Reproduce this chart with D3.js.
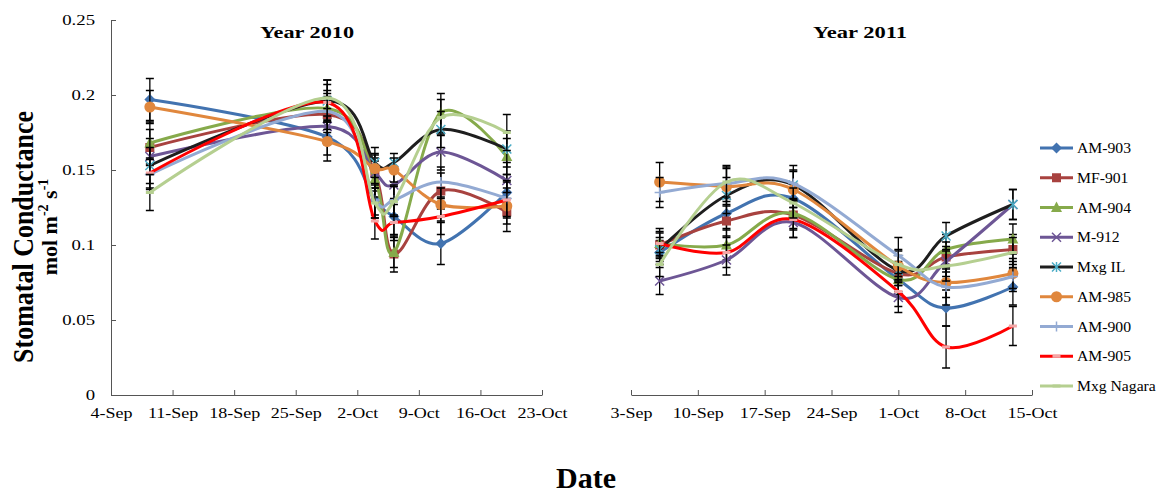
<!DOCTYPE html>
<html>
<head>
<meta charset="utf-8">
<script src="https://cdn.jsdelivr.net/npm/d3@7"></script>
<style>
  body { margin: 0; background: #fff; }
  svg { display: block; }
  text { font-family: 'Liberation Serif', 'Times New Roman', serif; fill: #000; }
</style>
</head>
<body>
<div id="chart"></div>
<script>
/* global d3 */

// series, in legend order
const seriesNames = ['AM-903', 'MF-901', 'AM-904', 'M-912', 'Mxg IL', 'AM-985', 'AM-900', 'AM-905', 'Mxg Nagara'];
const lineColors = ['#4273B0', '#A8423F', '#86AA4B', '#6D5695', '#1E1E1E', '#E0873D', '#93AAD3', '#FF0000', '#B5CF90'];
const markerColors = ['#4273B0', '#A8423F', '#86AA4B', '#6D5695', '#4BACC6', '#E0873D', '#93AAD3', '#F3A6A6', '#B5CF90'];
const markerTypes = ['diamond', 'square', 'triangle', 'x', 'star', 'circle', 'plus', 'dash', 'dash'];

// sampling dates
const dates2010 = ['2010-09-08 10:00', '2010-09-28 14:00', '2010-10-04 00:00', '2010-10-06 04:00', '2010-10-11 12:00', '2010-10-19 00:00'];
const dates2011 = ['2011-09-06 00:00', '2011-09-13 00:00', '2011-09-20 00:00', '2011-10-01 00:00', '2011-10-06 00:00', '2011-10-13 00:00'];

// stomatal conductance, one row per series (same order as seriesNames)
const values2010 = [
  [0.197, 0.172, 0.130, 0.119, 0.101, 0.135], // AM-903
  [0.165, 0.187, 0.148, 0.094, 0.136, 0.122], // MF-901
  [0.168, 0.191, 0.144, 0.095, 0.188, 0.159], // AM-904
  [0.159, 0.179, 0.148, 0.140, 0.162, 0.143], // M-912
  [0.153, 0.196, 0.155, 0.155, 0.177, 0.164], // Mxg IL
  [0.192, 0.169, 0.151, 0.150, 0.127, 0.126], // AM-985
  [0.147, 0.189, 0.130, 0.130, 0.142, 0.131], // AM-900
  [0.148, 0.195, 0.116, 0.115, 0.119, 0.130], // AM-905
  [0.135, 0.198, 0.128, 0.129, 0.185, 0.175]  // Mxg Nagara
];
const values2011 = [
  [0.095, 0.121, 0.131, 0.077, 0.058, 0.072],
  [0.100, 0.116, 0.120, 0.081, 0.092, 0.097],
  [0.101, 0.100, 0.121, 0.077, 0.097, 0.104],
  [0.076, 0.090, 0.115, 0.065, 0.089, 0.127],
  [0.097, 0.133, 0.140, 0.083, 0.106, 0.127],
  [0.142, 0.139, 0.137, 0.086, 0.075, 0.081],
  [0.135, 0.141, 0.141, 0.093, 0.072, 0.079],
  [0.101, 0.095, 0.117, 0.069, 0.032, 0.046],
  [0.087, 0.142, 0.128, 0.087, 0.086, 0.095]
];

// standard errors
const errors2010 = [
  [0.014, 0.012, 0.012, 0.012, 0.014, 0.012],
  [0.012, 0.012, 0.012, 0.012, 0.012, 0.013],
  [0.014, 0.012, 0.012, 0.010, 0.013, 0.012],
  [0.012, 0.012, 0.010, 0.010, 0.012, 0.012],
  [0.012, 0.014, 0.010, 0.006, 0.012, 0.012],
  [0.011, 0.013, 0.010, 0.008, 0.011, 0.012],
  [0.010, 0.012, 0.010, 0.010, 0.010, 0.012],
  [0.010, 0.012, 0.012, 0.012, 0.012, 0.012],
  [0.012, 0.012, 0.010, 0.010, 0.012, 0.012]
];
const errors2011 = [
  [0.008, 0.010, 0.010, 0.010, 0.012, 0.012],
  [0.008, 0.010, 0.010, 0.008, 0.010, 0.010],
  [0.008, 0.010, 0.010, 0.008, 0.010, 0.010],
  [0.009, 0.010, 0.010, 0.010, 0.010, 0.010],
  [0.008, 0.012, 0.010, 0.010, 0.009, 0.010],
  [0.013, 0.012, 0.012, 0.010, 0.010, 0.010],
  [0.010, 0.012, 0.012, 0.012, 0.012, 0.010],
  [0.010, 0.010, 0.012, 0.010, 0.014, 0.013],
  [0.008, 0.010, 0.010, 0.010, 0.010, 0.010]
];

const yTicks = [0, 0.05, 0.1, 0.15, 0.2, 0.25];

const width = 1157;
const height = 495;
const parse = d3.timeParse('%Y-%m-%d %H:%M');

const svg = d3.select('#chart')
  .append('svg')
  .attr('width', width)
  .attr('height', height);

// stretch text horizontally like the source picture
const stretch = (sel, k) => {
  sel.each(function () {
    const len = this.getComputedTextLength();
    d3.select(this).attr('textLength', len * k).attr('lengthAdjust', 'spacingAndGlyphs');
  });
};

const yScale = d3.scaleLinear().domain([0, 0.25]).range([395, 20]);

const panels = [
  {
    title: 'Year 2010',
    titleX: 307,
    dates: dates2010,
    values: values2010,
    errors: errors2010,
    start: parse('2010-09-04 00:00'),
    end: parse('2010-10-23 00:00'),
    range: [111, 542],
    showY: true
  },
  {
    title: 'Year 2011',
    titleX: 860,
    dates: dates2011,
    values: values2011,
    errors: errors2011,
    start: parse('2011-09-03 00:00'),
    end: parse('2011-10-15 00:00'),
    range: [631, 1032],
    showY: false
  }
];

const drawMarker = (g, type, cx, cy, color) => {
  const m = g.append('g').attr('transform', `translate(${cx} ${cy})`);
  if (type === 'diamond') {
    m.append('path').attr('d', 'M0,-5.5L5.5,0L0,5.5L-5.5,0Z').attr('fill', color);
  } else if (type === 'square') {
    m.append('rect').attr('x', -4.5).attr('y', -4.5).attr('width', 9).attr('height', 9).attr('fill', color);
  } else if (type === 'triangle') {
    m.append('path').attr('d', 'M0,-6L5.5,4.5L-5.5,4.5Z').attr('fill', color);
  } else if (type === 'circle') {
    m.append('circle').attr('r', 5.5).attr('fill', color);
  } else if (type === 'x' || type === 'star') {
    m.append('path').attr('d', 'M-4.5,-4.5L4.5,4.5M-4.5,4.5L4.5,-4.5')
      .attr('stroke', color).attr('stroke-width', 1.5).attr('fill', 'none');
    if (type === 'star') {
      m.append('path').attr('d', 'M0,-5L0,5').attr('stroke', color).attr('stroke-width', 1.5);
    }
  } else if (type === 'plus') {
    m.append('path').attr('d', 'M-5,0L5,0M0,-5L0,5')
      .attr('stroke', color).attr('stroke-width', 1.5).attr('fill', 'none');
  } else if (type === 'dash') {
    m.append('path').attr('d', 'M-4,0L4,0').attr('stroke', color).attr('stroke-width', 3);
  }
};

const line = d3.line()
  .x((d) => d.x)
  .y((d) => d.y)
  .curve(d3.curveCardinal.tension(0));

panels.forEach((p) => {
  const xScale = d3.scaleTime().domain([p.start, p.end]).range(p.range);

  // x axis
  const xAxis = d3.axisBottom(xScale)
    .tickValues(d3.timeDay.range(p.start, d3.timeDay.offset(p.end, 1), 7))
    .tickFormat(d3.timeFormat('%-d-%b'))
    .tickSizeInner(-5)
    .tickSizeOuter(0)
    .tickPadding(12);

  const gx = svg.append('g')
    .attr('transform', `translate(0 ${yScale(0)})`)
    .call(xAxis);
  gx.selectAll('path, line').attr('stroke', '#555');
  gx.selectAll('text')
    .style('font-size', '15px')
    .style('font-family', "'Liberation Serif', serif")
    .call(stretch, 1.2);

  // y axis (left panel only)
  if (p.showY) {
    const yAxis = d3.axisLeft(yScale)
      .tickValues(yTicks)
      .tickFormat((d) => (d === 0 ? '0' : String(+d.toFixed(2))))
      .tickSizeInner(-5)
      .tickSizeOuter(0)
      .tickPadding(16);
    const gy = svg.append('g')
      .attr('transform', `translate(${p.range[0]} 0)`)
      .call(yAxis);
    gy.selectAll('path, line').attr('stroke', '#555');
    gy.selectAll('text')
      .style('font-size', '15px')
      .style('font-family', "'Liberation Serif', serif")
      .call(stretch, 1.25);
  }

  // panel title
  svg.append('text')
    .attr('x', p.titleX)
    .attr('y', 38)
    .attr('text-anchor', 'middle')
    .style('font-size', '16px')
    .style('font-weight', 'bold')
    .text(p.title)
    .attr('textLength', 94)
    .attr('lengthAdjust', 'spacingAndGlyphs');

  // series
  const plot = svg.append('g');
  seriesNames.forEach((name, i) => {
    const pts = p.dates.map((d, j) => ({
      x: xScale(parse(d)),
      y: yScale(p.values[i][j]),
      v: p.values[i][j],
      e: p.errors[i][j]
    }));
    const g = plot.append('g').attr('class', `series-${i}`);

    // error bars
    pts.forEach((d) => {
      const top = yScale(d.v + d.e);
      const bot = yScale(d.v - d.e);
      g.append('path')
        .attr('d', `M${d.x},${top}L${d.x},${bot}M${d.x - 4},${top}L${d.x + 4},${top}M${d.x - 4},${bot}L${d.x + 4},${bot}`)
        .attr('stroke', '#000')
        .attr('stroke-width', 1.3)
        .attr('fill', 'none');
    });

    g.append('path')
      .datum(pts)
      .attr('d', line)
      .attr('fill', 'none')
      .attr('stroke', lineColors[i])
      .attr('stroke-width', 3)
      .attr('stroke-linejoin', 'round');

    pts.forEach((d) => drawMarker(g, markerTypes[i], d.x, d.y, markerColors[i]));
  });
});

// y axis title
svg.append('text')
  .attr('transform', 'translate(33 237) scale(1.15 1) rotate(-90)')
  .attr('text-anchor', 'middle')
  .style('font-size', '26px')
  .style('font-weight', 'bold')
  .text('Stomatal Conductance');

const unit = svg.append('text')
  .attr('transform', 'translate(57 227) rotate(-90)')
  .attr('text-anchor', 'middle')
  .style('font-size', '22px')
  .style('font-weight', 'bold');
unit.append('tspan').text('mol m');
unit.append('tspan').attr('dy', -9).style('font-size', '14px').text('-2');
unit.append('tspan').attr('dy', 9).text(' s');
unit.append('tspan').attr('dy', -9).style('font-size', '14px').text('-1');

// x axis title
svg.append('text')
  .attr('x', 586)
  .attr('y', 488)
  .attr('text-anchor', 'middle')
  .style('font-size', '30px')
  .style('font-weight', 'bold')
  .text('Date');

// legend
const legend = svg.append('g');
seriesNames.forEach((name, i) => {
  const ly = 148 + i * 29.75;
  legend.append('path')
    .attr('d', `M1040,${ly}L1073,${ly}`)
    .attr('stroke', lineColors[i])
    .attr('stroke-width', 3);
  drawMarker(legend, markerTypes[i], 1056.5, ly, markerColors[i]);
  legend.append('text')
    .attr('x', 1077)
    .attr('y', ly + 5)
    .style('font-size', '14px')
    .text(name)
    .call(stretch, 1.12);
});
</script>
</body>
</html>
